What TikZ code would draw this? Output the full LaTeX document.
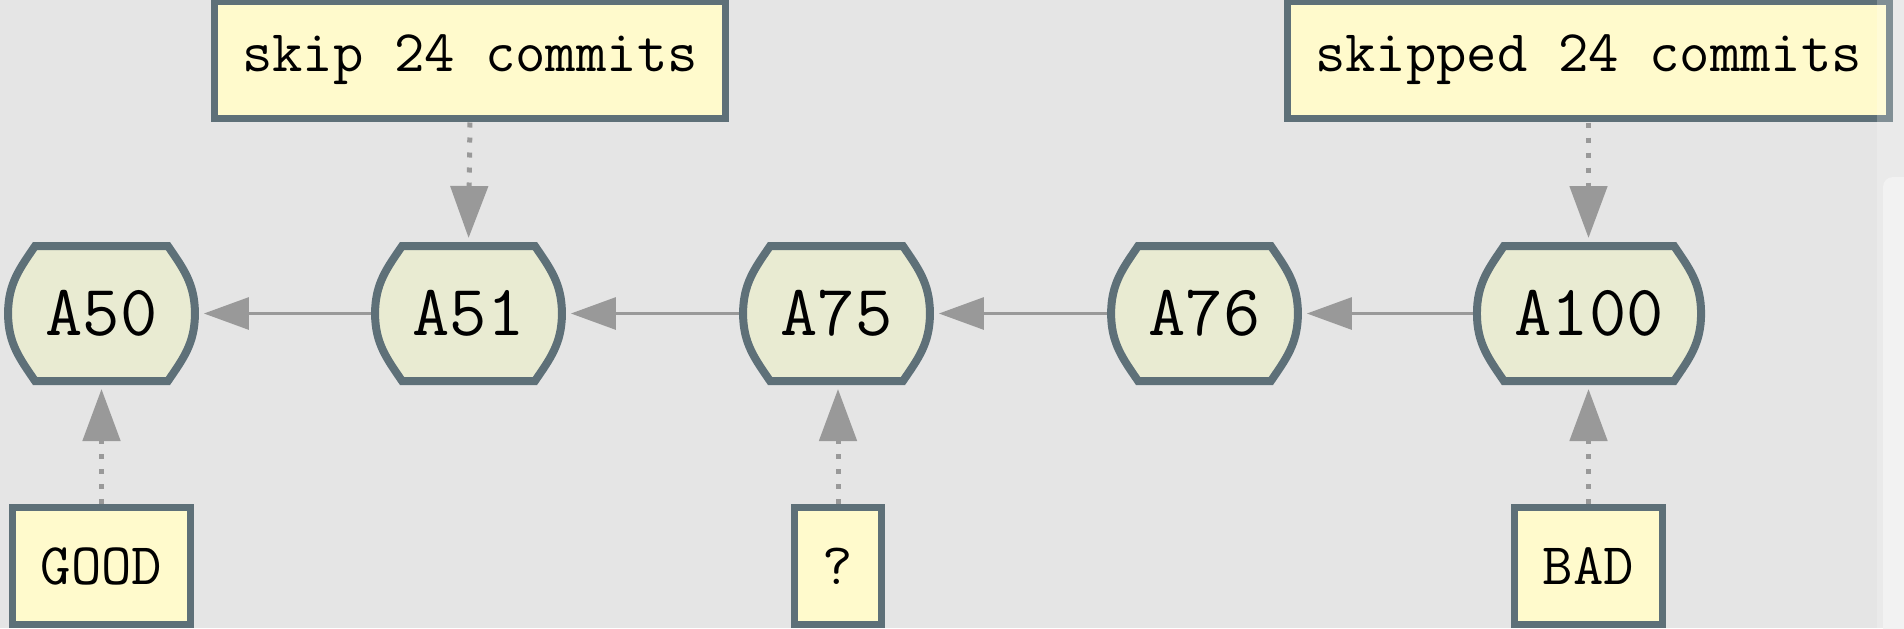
\documentclass[tikz,border=0pt]{standalone}
\usepackage{fontspec}
\usetikzlibrary{arrows.meta,backgrounds,calc}
\definecolor{bg}{HTML}{E5E5E5}
\definecolor{edgec}{HTML}{5E7078}
\definecolor{cfill}{HTML}{E9EBD2}
\definecolor{bfill}{HTML}{FFFACC}
\definecolor{arr}{HTML}{999999}
\definecolor{thumb}{HTML}{F2F2F2}
\tikzset{
  commit/.style={rectangle, draw=none, outer sep=0pt, inner xsep=18.75pt, inner ysep=0pt,
    minimum height=67.5pt, font=\fontsize{36.2}{40}\selectfont\ttfamily},
  labelbox/.style={rectangle, draw=edgec, line width=3.5pt, fill=bfill, outer sep=0pt,
    inner xsep=14pt, inner ysep=0pt, minimum height=58.5pt,
    font=\fontsize{29.5}{34}\selectfont\ttfamily},
  parent/.style={draw=arr, line width=1.5pt, -{Triangle[length=22.5pt,width=16pt]},
    shorten >=4.5pt, shorten <=2pt},
  pointer/.style={draw=arr, line width=2.5pt, dash pattern=on 2.5pt off 5pt,
    -{Triangle[length=26pt,width=18.5pt]}, shorten >=4pt, shorten <=2pt},
  outline/.style={draw=edgec, line width=4pt, fill=cfill},
}
\begin{document}
\begin{tikzpicture}[x=0.5pt,y=-0.5pt]
\useasboundingbox (0,0) rectangle (1904,628);
% commits
\node[commit] (a50)  at (101.5,313.5) {A50};
\node[commit] (a51)  at (468.5,313.5) {A51};
\node[commit] (a75)  at (836.5,313.5) {A75};
\node[commit] (a76)  at (1204.5,313.5) {A76};
\node[commit] (a100) at (1589,313.5) {A100};
% labels
\node[labelbox] (skip)    at (470,60)    {skip 24 commits};
\node[labelbox] (skipped) at (1588.5,60) {skipped 24 commits};
\node[labelbox] (good)    at (101.5,566) {GOOD};
\node[labelbox] (unk)     at (838,566)   {?};
\node[labelbox] (bad)     at (1588.5,566) {BAD};
\begin{scope}[on background layer]
  \fill[bg] (0,0) rectangle (1904,628);
  \foreach \n in {a50,a51,a75,a76,a100} {
    \path[outline]
      ($(\n.north west)+(27,0)$) -- ($(\n.north east)+(-27,0)$)
      .. controls ($(\n.north east)+(-12,22)$) and ($(\n.east)+(0,-30)$) .. (\n.east)
      .. controls ($(\n.east)+(0,30)$) and ($(\n.south east)+(-12,-22)$) .. ($(\n.south east)+(-27,0)$)
      -- ($(\n.south west)+(27,0)$)
      .. controls ($(\n.south west)+(12,-22)$) and ($(\n.west)+(0,30)$) .. (\n.west)
      .. controls ($(\n.west)+(0,-30)$) and ($(\n.north west)+(12,22)$) .. cycle;
  }
\end{scope}
% parent links
\draw[parent] (a51) -- (a50);
\draw[parent] (a75) -- (a51);
\draw[parent] (a76) -- (a75);
\draw[parent] (a100) -- (a76);
% pointers
\draw[pointer] (skip.south) -- (a51.north);
\draw[pointer] (skipped.south) -- (skipped.south |- a100.north);
\draw[pointer] (good.north) -- (a50.south);
\draw[pointer] (unk.north) -- (unk.north |- a75.south);
\draw[pointer] (bad.north) -- (bad.north |- a100.south);
% window edge
\fill[white, opacity=0.22] (1877,0) rectangle (1904,628);
\fill[thumb, rounded corners=5pt] (1883,177) rectangle (1916,640);
\end{tikzpicture}
\end{document}
